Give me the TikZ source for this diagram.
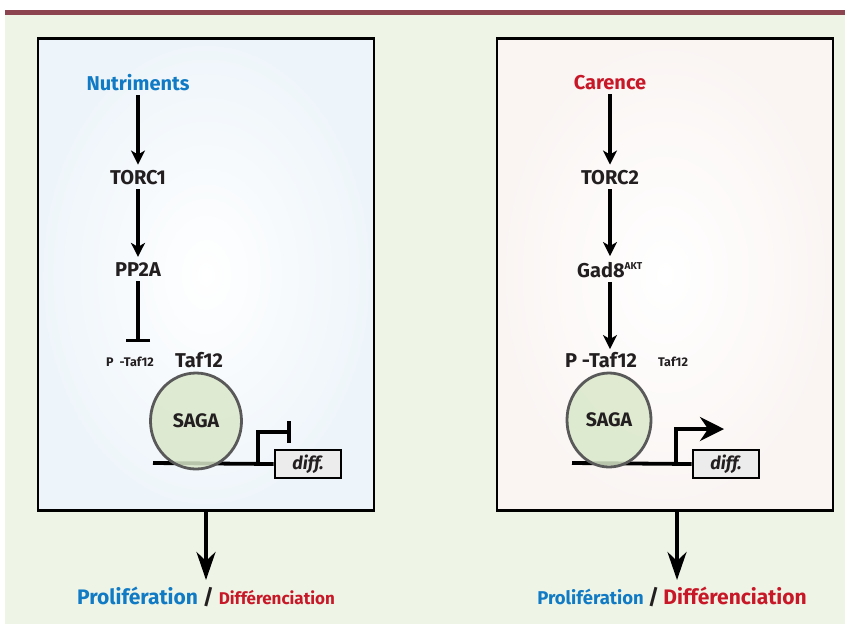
\documentclass[tikz,border=0pt]{standalone}
\usepackage{fontspec}
\setmainfont{Fira Sans}
\definecolor{barred}{RGB}{139, 68, 80}
\definecolor{pagegreen}{RGB}{238, 244, 230}
\definecolor{boxblue}{RGB}{238, 245, 250}
\definecolor{boxpink}{RGB}{250, 245, 243}
\definecolor{textblue}{RGB}{16, 122, 196}
\definecolor{textred}{RGB}{200, 24, 40}
\definecolor{textdark}{RGB}{35, 31, 32}
\definecolor{sagagreen}{RGB}{218, 232, 202}
\definecolor{diffgrey}{RGB}{236, 236, 236}
\usetikzlibrary{shapes.geometric, arrows.meta}

\begin{document}
\begin{tikzpicture}[x=1pt, y=-1pt,
    panel/.style={draw=black, line width=2.6pt, minimum width=336pt, minimum height=472pt},
    lbl/.style={font=\bfseries\fontsize{20}{22}\selectfont, text=textdark, inner sep=4pt},
    smalllbl/.style={font=\bfseries\fontsize{12.5}{14}\selectfont, text=textdark, inner sep=1pt},
    act/.style={-{Stealth[length=14pt, width=14pt, inset=4pt]}, line width=3.4pt, shorten >=2pt},
    inh/.style={-{Bar[width=24pt, line width=3.4pt]}, line width=3.4pt},
    dna/.style={line width=3.8pt},
    saga/.style={ellipse, draw=black!65, line width=2.8pt, fill=sagagreen, fill opacity=0.85,
                 text opacity=1, font=\bfseries\fontsize{19.5}{21}\selectfont, text=textdark},
    diffbox/.style={draw=black, line width=2.6pt, fill=diffgrey, minimum width=66pt, minimum height=28pt,
                    inner sep=0pt, font=\bfseries\itshape\fontsize{18}{20}\selectfont, text=textdark},
    outarrow/.style={-{Stealth[length=28pt, width=19pt, inset=9pt]}, line width=3.8pt}
  ]
  % page
  \useasboundingbox (0,0) rectangle (845,625);
  \fill[pagegreen] (5,15) rectangle (845,624);
  \fill[barred] (5,10) rectangle (845,15);

  % panels
  \node[panel, inner color=white, outer color=boxblue] (leftbox) at (206,274.5) {};
  \node[panel, inner color=white, outer color=boxpink] (rightbox) at (665,274.5) {};

  % left: nutriments
  \node[lbl, text=textblue] (nutri) at (138,83) {Nutriments};
  \node[lbl] (torc1) at (138,178) {TORC1};
  \node[lbl] (pp2a) at (138,270) {PP2A};
  \coordinate (pstop) at (138,342);
  \draw[act] (nutri) -- (torc1);
  \draw[act] (torc1) -- (pp2a);
  \draw[inh] (pp2a) -- (pstop);
  \node[smalllbl] (lptaf) at (130,362) {P\ \ -Taf12};
  \node[lbl, inner sep=1pt] (ltaf) at (199,360) {Taf12};

  \coordinate (ldna) at (153,463);
  \coordinate (lprom) at (258,463);
  \coordinate (lstop) at (291,432);
  \node[diffbox] (ldiff) at (308,464) {diff.};
  \draw[dna] (ldna) -- (ldiff.west);
  \draw[dna, -{Bar[width=22pt, line width=3.6pt]}] (lprom) |- (lstop);
  \node[saga, minimum width=91pt, minimum height=96pt] (lsaga) at (196,421) {SAGA};

  \coordinate (lend) at (206,580);
  \draw[outarrow] (leftbox.south) -- (lend);
  \node[anchor=base, inner sep=0pt] (lout) at (206,604)
    {\bfseries\fontsize{21}{23}\selectfont\textcolor{textblue}{Prolifération}
     \textcolor{textdark}{/} \textcolor{textred}{\fontsize{17}{19}\selectfont Différenciation}};

  % right: carence
  \node[lbl, text=textred] (carence) at (610,83) {Carence};
  \node[lbl] (torc2) at (610,178) {TORC2};
  \node[lbl] (gad8) at (610,270) {Gad8\textsuperscript{\fontsize{10}{11}\selectfont AKT}};
  \node[lbl, inner sep=1pt] (rptaf) at (601,360) {P -Taf12};
  \node[smalllbl] (rtaf) at (673,362) {Taf12};
  \draw[act] (carence) -- (torc2);
  \draw[act] (torc2) -- (torc2 |- gad8.north);
  \draw[act] (gad8.south -| torc2) -- (torc2 |- rptaf.north);

  \coordinate (rdna) at (572,463);
  \coordinate (rprom) at (676,463);
  \coordinate (rgo) at (724,429);
  \node[diffbox] (rdiff) at (726,464) {diff.};
  \draw[dna] (rdna) -- (rdiff.west);
  \draw[dna, -{Stealth[length=24pt, width=24pt, inset=8pt]}] (rprom) |- (rgo);
  \node[saga, minimum width=84pt, minimum height=94pt] (rsaga) at (609,420) {SAGA};

  \coordinate (rend) at (677,580);
  \draw[outarrow] (rightbox.south -| rend) -- (rend);
  \node[anchor=base, inner sep=0pt] (rout) at (672,604)
    {\bfseries\fontsize{18.5}{20}\selectfont\textcolor{textblue}{Prolifération}
     \textcolor{textdark}{\fontsize{21}{23}\selectfont/} \textcolor{textred}{\fontsize{21}{23}\selectfont Différenciation}};
\end{tikzpicture}
\end{document}
